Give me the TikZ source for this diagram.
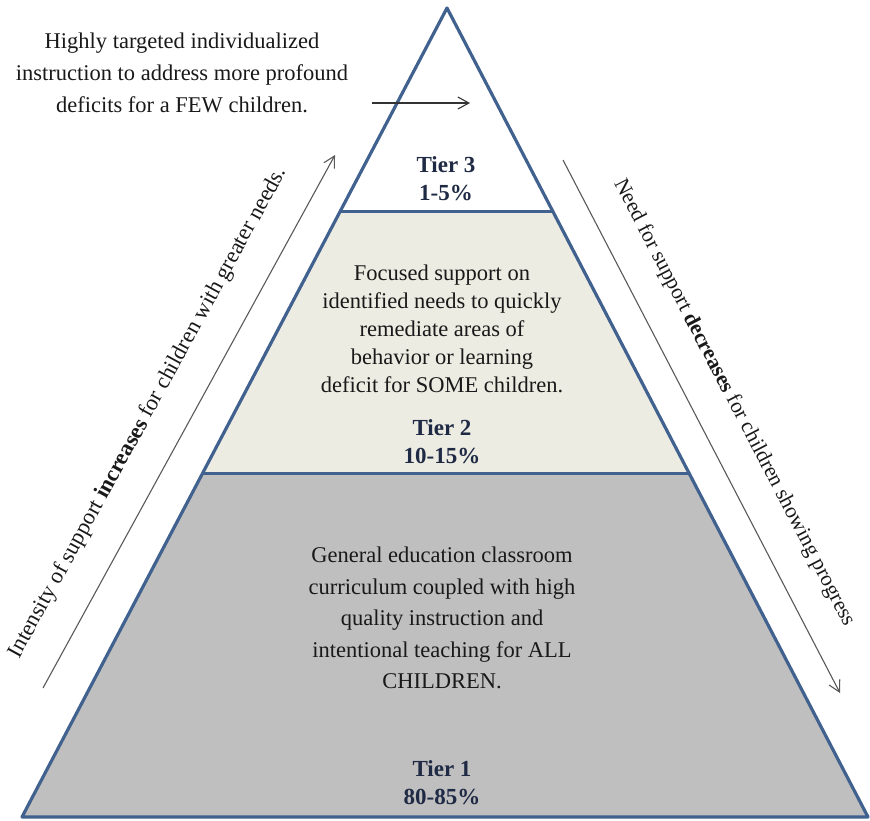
\documentclass[tikz,border=0pt]{standalone}
\usepackage{fontspec}
\setmainfont{Liberation Serif}
\usetikzlibrary{arrows.meta, positioning, calc}

\definecolor{pyrblue}{HTML}{41618F}
\definecolor{tiertwo}{HTML}{EDECE3}
\definecolor{tierone}{HTML}{BFBFBF}
\definecolor{tiernavy}{HTML}{1F2A44}

\begin{document}
\begin{tikzpicture}[
    x=1pt, y=-1pt,
    desc/.style={align=center, text=black!90, inner sep=0pt, font=\fontsize{22.5}{28}\selectfont},
    tierlbl/.style={align=center, text=tiernavy, inner sep=0pt, font=\fontsize{23}{28}\selectfont\bfseries},
    side/.style={sloped, text=black!90, font=\fontsize{22.5}{26}\selectfont},
    arrow/.style={-{Straight Barb[length=11pt,width=12pt]}, line width=1.1pt, draw=black!65},
    edge/.style={draw=pyrblue, line width=3.2pt, line join=round}
]
    \useasboundingbox (0,0) rectangle (870,820);

    % pyramid corners and tier borders
    \coordinate (apex) at (447,8);
    \coordinate (bl) at (22,817);
    \coordinate (br) at (868,817);
    \coordinate (c3l) at ($(apex)!0.252!(bl)$);
    \coordinate (c3r) at ($(apex)!0.252!(br)$);
    \coordinate (c2l) at ($(apex)!0.575!(bl)$);
    \coordinate (c2r) at ($(apex)!0.575!(br)$);

    \fill[tierone] (c2l) -- (bl) -- (br) -- (c2r) -- cycle;
    \fill[tiertwo] (c3l) -- (c2l) -- (c2r) -- (c3r) -- cycle;
    \draw[edge] (apex) -- (bl) -- (br) -- cycle;
    \draw[edge] (c3l) -- (c3r);
    \draw[edge] (c2l) -- (c2r);

    % tier texts
    \node[tierlbl] (t3lbl) at (446,179) {Tier 3\\1-5\%};
    \node[desc] (t2txt) at (442,329) {Focused support on\\identified needs to quickly\\remediate areas of\\behavior or learning\\deficit for SOME children.};
    \node[tierlbl, below=26pt of t2txt] (t2lbl) {Tier 2\\10-15\%};
    \node[desc, font=\fontsize{22.5}{31.5}\selectfont] (t1txt) at (442,618) {General education classroom\\curriculum coupled with high\\quality instruction and\\intentional teaching for ALL\\CHILDREN.};
    \node[tierlbl, below=71pt of t1txt] (t1lbl) {Tier 1\\80-85\%};

    % note for tier 3
    \node[desc, font=\fontsize{22.5}{32}\selectfont] (fewtxt) at (182,73) {Highly targeted individualized\\instruction to address more profound\\deficits for a FEW children.};
    \coordinate (ptrS) at (372,103);
    \coordinate (ptrE) at (470,103);
    \draw[arrow, draw=black!80] (ptrS) -- (ptrE);

    % side arrows
    \coordinate (upS) at (43,688);
    \coordinate (upE) at (335,155);
    \coordinate (dnS) at (563,160);
    \coordinate (dnE) at (840,693);
    \draw[arrow] (upS) -- node[side, above=26pt, pos=0.48] (uptxt) {Intensity of support \textbf{increases} for children with greater needs.} (upE);
    \draw[arrow] (dnS) -- node[side, above=26pt, pos=0.49, font=\fontsize{21.5}{26}\selectfont] (dntxt) {Need for support \textbf{decreases} for children showing progress} (dnE);
\end{tikzpicture}
\end{document}
